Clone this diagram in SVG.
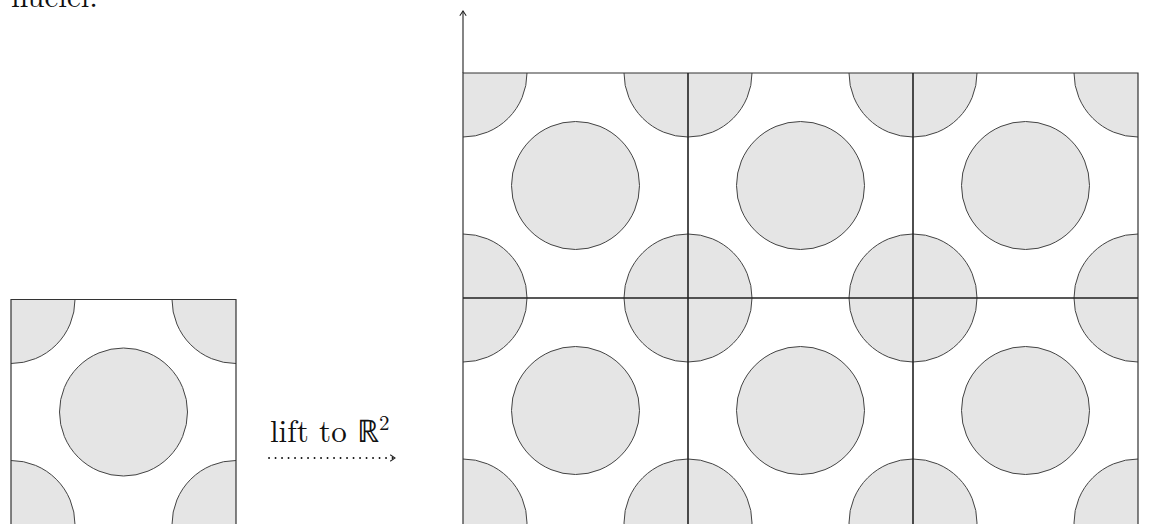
<svg xmlns="http://www.w3.org/2000/svg" width="1160" height="524" viewBox="0 0 1160 524">
<style>
.n{fill:#e5e5e5;stroke:#444;stroke-width:1}
.frame{fill:none;stroke:#333;stroke-width:1.2}
.grid{stroke:#222;stroke-width:1.6;fill:none}
.t{font-family:"Latin Modern Roman","Liberation Serif",serif;font-size:31px;fill:#111}
</style>
<defs>
<clipPath id="cs"><rect x="11" y="299.5" width="225" height="225"/></clipPath>
<clipPath id="cl"><rect x="463" y="73" width="675" height="452"/></clipPath>
<marker id="ah" viewBox="0 0 10 10" refX="8" refY="5" markerWidth="8" markerHeight="8" markerUnits="userSpaceOnUse" orient="auto">
<path d="M2,1 L8,5 L2,9" fill="none" stroke="#222" stroke-width="1.3"/>
</marker>
</defs>
<rect width="1160" height="524" fill="#fff"/>
<text class="t" x="11" y="7">nuclei.</text>
<g id="torus">
<g clip-path="url(#cs)">
<circle class="n" cx="11" cy="299.5" r="64"/>
<circle class="n" cx="236" cy="299.5" r="64"/>
<circle class="n" cx="11" cy="524.5" r="64"/>
<circle class="n" cx="236" cy="524.5" r="64"/>
<circle class="n" cx="123.5" cy="412" r="64"/>
</g>
<path class="frame" d="M11,530 V299.5 H236 V530"/>
</g>
<g id="plane">
<g clip-path="url(#cl)">
<circle class="n" cx="463" cy="73" r="64"/><circle class="n" cx="688" cy="73" r="64"/><circle class="n" cx="913" cy="73" r="64"/><circle class="n" cx="1138" cy="73" r="64"/>
<circle class="n" cx="463" cy="298" r="64"/><circle class="n" cx="688" cy="298" r="64"/><circle class="n" cx="913" cy="298" r="64"/><circle class="n" cx="1138" cy="298" r="64"/>
<circle class="n" cx="463" cy="523" r="64"/><circle class="n" cx="688" cy="523" r="64"/><circle class="n" cx="913" cy="523" r="64"/><circle class="n" cx="1138" cy="523" r="64"/>
<circle class="n" cx="575.5" cy="185.5" r="64"/><circle class="n" cx="800.5" cy="185.5" r="64"/><circle class="n" cx="1025.5" cy="185.5" r="64"/>
<circle class="n" cx="575.5" cy="410.5" r="64"/><circle class="n" cx="800.5" cy="410.5" r="64"/><circle class="n" cx="1025.5" cy="410.5" r="64"/>
</g>
<path class="frame" d="M463,530 V73 H1138 V530"/>
<path class="grid" d="M688,73 V530 M913,73 V530 M463,298 H1138"/>
</g>
<g id="connectors">
<line x1="463" y1="73" x2="463" y2="11" stroke="#333" stroke-width="1.2" marker-end="url(#ah)"/>
<line x1="269" y1="458" x2="395" y2="458" stroke="#111" stroke-width="1.8" stroke-dasharray="0.1 6.4" stroke-linecap="round" marker-end="url(#ah)"/>
</g>
<text class="t" x="270" y="442">lift to ℝ<tspan font-size="21" dy="-12">2</tspan></text>
</svg>
